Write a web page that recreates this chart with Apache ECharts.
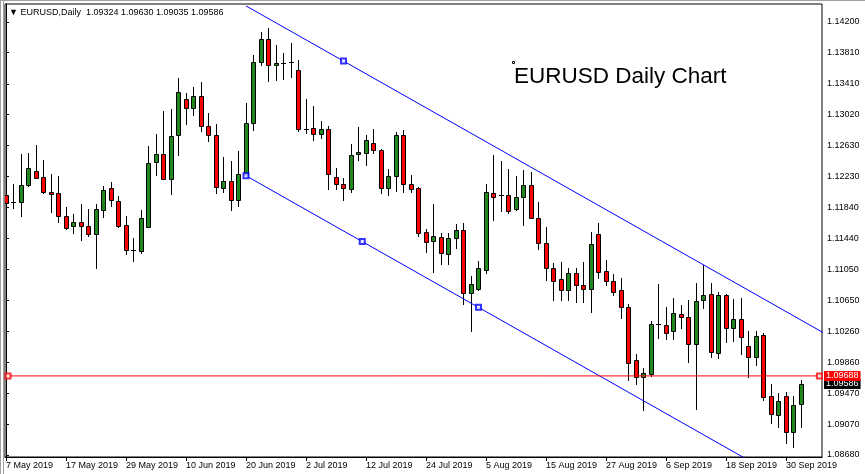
<!DOCTYPE html>
<html><head><meta charset="utf-8">
<script src="https://cdn.jsdelivr.net/npm/echarts@6/dist/echarts.min.js"></script>
<style>html,body{margin:0;padding:0;background:#fff}#c{width:865px;height:474px}</style>
</head><body><div id="c"></div>
<script>
// ---------- data ----------
const symbolName = 'EURUSD,Daily';
const chartTitle = 'EURUSD Daily Chart';
const dates = [
 '7 May 2019','8 May 2019','9 May 2019','10 May 2019','13 May 2019','14 May 2019','15 May 2019','16 May 2019','17 May 2019','20 May 2019','21 May 2019','22 May 2019','23 May 2019','24 May 2019','27 May 2019','28 May 2019','29 May 2019','30 May 2019','31 May 2019',
 '3 Jun 2019','4 Jun 2019','5 Jun 2019','6 Jun 2019','7 Jun 2019','10 Jun 2019','11 Jun 2019','12 Jun 2019','13 Jun 2019','14 Jun 2019','17 Jun 2019','18 Jun 2019','19 Jun 2019','20 Jun 2019','21 Jun 2019','24 Jun 2019','25 Jun 2019','26 Jun 2019','27 Jun 2019','28 Jun 2019',
 '1 Jul 2019','2 Jul 2019','3 Jul 2019','4 Jul 2019','5 Jul 2019','8 Jul 2019','9 Jul 2019','10 Jul 2019','11 Jul 2019','12 Jul 2019','15 Jul 2019','16 Jul 2019','17 Jul 2019','18 Jul 2019','19 Jul 2019','22 Jul 2019','23 Jul 2019','24 Jul 2019','25 Jul 2019','26 Jul 2019','29 Jul 2019','30 Jul 2019','31 Jul 2019',
 '1 Aug 2019','2 Aug 2019','5 Aug 2019','6 Aug 2019','7 Aug 2019','8 Aug 2019','9 Aug 2019','12 Aug 2019','13 Aug 2019','14 Aug 2019','15 Aug 2019','16 Aug 2019','19 Aug 2019','20 Aug 2019','21 Aug 2019','22 Aug 2019','23 Aug 2019','26 Aug 2019','27 Aug 2019','28 Aug 2019','29 Aug 2019','30 Aug 2019',
 '2 Sep 2019','3 Sep 2019','4 Sep 2019','5 Sep 2019','6 Sep 2019','9 Sep 2019','10 Sep 2019','11 Sep 2019','12 Sep 2019','13 Sep 2019','16 Sep 2019','17 Sep 2019','18 Sep 2019','19 Sep 2019','20 Sep 2019','23 Sep 2019','24 Sep 2019','25 Sep 2019','26 Sep 2019','27 Sep 2019','30 Sep 2019',
 '1 Oct 2019','2 Oct 2019'
];
const opens = [
 1.11992,1.11907,1.11907,1.12120,1.12298,1.12218,1.12034,1.12014,1.11725,1.11601,1.11648,1.11597,1.11492,1.11801,1.12081,1.11916,1.11606,1.11295,1.11283,
 1.11588,1.12409,1.12511,1.12200,1.12760,1.13215,1.13104,1.13253,1.12871,1.12760,1.12090,1.12179,1.11925,1.12247,1.12918,1.13690,1.13979,1.13657,1.13676,1.13688,
 1.13593,1.12840,1.12846,1.12778,1.12833,1.12225,1.12141,1.12065,1.12514,1.12536,1.12658,1.12574,1.12090,1.12234,1.12765,1.12141,1.12085,1.11517,1.11410,1.11461,1.11237,1.11448,1.11546,
 1.10740,1.10795,1.11037,1.12021,1.11992,1.11992,1.11810,1.11971,1.12128,1.11695,1.11377,1.11062,1.10918,1.10778,1.10995,1.10842,1.10791,1.11492,1.11020,1.10897,1.10782,1.10562,
 1.09890,1.09670,1.09712,1.10347,1.10336,1.10260,1.10472,1.10434,1.10098,1.10651,1.10727,1.09976,1.10718,1.10294,1.10413,1.10069,1.09925,1.10209,1.09432,1.09186,1.09432,
 1.08969,1.09324
];
const highs = [
 1.12183,1.12141,1.12514,1.12536,1.12633,1.12447,1.12256,1.12238,1.11843,1.11750,1.11878,1.11810,1.11878,1.12111,1.12154,1.11988,1.11725,1.11441,1.11797,
 1.12625,1.12778,1.13062,1.13088,1.13483,1.13300,1.13377,1.13432,1.13041,1.12897,1.12476,1.12425,1.12553,1.13173,1.13784,1.14072,1.14123,1.13912,1.13810,1.13937,
 1.13712,1.13219,1.13126,1.12935,1.12871,1.12345,1.12205,1.12651,1.12862,1.12757,1.12833,1.12580,1.12332,1.12799,1.12829,1.12247,1.12098,1.11555,1.11878,1.11504,1.11512,1.11619,1.11632,
 1.10964,1.11155,1.12132,1.12502,1.12429,1.12320,1.12234,1.12311,1.12289,1.11907,1.11588,1.11130,1.11142,1.11066,1.11058,1.11142,1.11525,1.11639,1.11164,1.10986,1.10931,1.10600,
 1.09967,1.09785,1.10387,1.10855,1.10569,1.10676,1.10591,1.10655,1.10875,1.11100,1.10867,1.10753,1.10731,1.10671,1.10676,1.10260,1.10260,1.10230,1.09585,1.09474,1.09479,
 1.09432,1.09630
];
const lows = [
 1.11652,1.11823,1.11728,1.12107,1.12205,1.12014,1.11779,1.11652,1.11555,1.11504,1.11419,1.11474,1.11058,1.11716,1.11856,1.11588,1.11241,1.11155,1.11249,
 1.11585,1.12251,1.12196,1.12005,1.12506,1.12897,1.13011,1.12816,1.12689,1.12018,1.12030,1.11801,1.11856,1.12240,1.12829,1.13657,1.13444,1.13466,1.13479,1.13499,
 1.12807,1.12782,1.12693,1.12722,1.12065,1.12065,1.11937,1.12034,1.12447,1.12374,1.12531,1.12021,1.11992,1.12047,1.12034,1.12034,1.11470,1.11262,1.11015,1.11113,1.11113,1.11313,1.10600,
 1.10264,1.10782,1.10995,1.11674,1.11792,1.11767,1.11805,1.11610,1.11700,1.11304,1.10909,1.10655,1.10655,1.10655,1.10633,1.10633,1.10506,1.10939,1.10846,1.10718,1.10421,1.09632,
 1.09581,1.09253,1.09686,1.10167,1.10154,1.10154,1.10294,1.09861,1.09266,1.10549,1.09925,1.09912,1.10123,1.10132,1.09963,1.09670,1.09826,1.09381,1.09084,1.09041,1.08837,
 1.08786,1.09035
];
const closes = [
 1.11894,1.11907,1.12128,1.12345,1.12213,1.12030,1.12005,1.11728,1.11576,1.11648,1.11593,1.11499,1.11810,1.12056,1.11925,1.11601,1.11295,1.11295,1.11703,
 1.12404,1.12511,1.12200,1.12753,1.13313,1.13109,1.13253,1.12871,1.12760,1.12098,1.12179,1.11925,1.12260,1.12918,1.13690,1.13979,1.13657,1.13683,1.13676,1.13688,
 1.12842,1.12840,1.12778,1.12830,1.12260,1.12141,1.12078,1.12502,1.12540,1.12702,1.12574,1.12090,1.12234,1.12765,1.12141,1.12069,1.11512,1.11397,1.11470,1.11257,1.11448,1.11546,1.10740,
 1.10855,1.11058,1.12027,1.11971,1.11992,1.11792,1.11963,1.12128,1.11703,1.11377,1.11062,1.10897,1.10778,1.10995,1.10842,1.10791,1.11364,1.11011,1.10897,1.10760,1.10562,1.09856,
 1.09670,1.09721,1.10349,1.10347,1.10230,1.10485,1.10434,1.10098,1.10638,1.10718,1.09988,1.10718,1.10294,1.10413,1.10179,1.09925,1.10196,1.09423,1.09202,1.09368,1.08969,
 1.09317,1.09586
];
const xTickLabels = ['7 May 2019','17 May 2019','29 May 2019','10 Jun 2019','20 Jun 2019','2 Jul 2019','12 Jul 2019','24 Jul 2019','5 Aug 2019','15 Aug 2019','27 Aug 2019','6 Sep 2019','18 Sep 2019','30 Sep 2019'];
const yTickValues = [1.0868,1.0907,1.0947,1.0986,1.1026,1.1065,1.1105,1.1144,1.1184,1.1223,1.1263,1.1302,1.1341,1.1381,1.1420];
const askPrice = 1.09688;
const bidPrice = 1.09586;
const channelBase = [[32, 1.12240], [63, 1.10562]];   // lower channel line anchors
const channelThird = [45, 1.13702];                     // upper channel anchor

// ---------- build ----------
const FONT = '"Liberation Sans", Arial, sans-serif';
const xMin = -0.1333, xMax = 108.8;
const yMin = 1.086545, yMax = 1.144295;
const n = dates.length;
const candles = dates.map((d, i) => [i, opens[i], closes[i], lows[i], highs[i]]);
const xTickIdx = xTickLabels.map(l => dates.indexOf(l));

const slope = (channelBase[1][1] - channelBase[0][1]) / (channelBase[1][0] - channelBase[0][0]);
const lowerAt = k => channelBase[0][1] + slope * (k - channelBase[0][0]);
const offset = channelThird[1] - lowerAt(channelThird[0]);
const kEnd = 130;
const lowerLine = [[channelBase[0][0], lowerAt(channelBase[0][0])], [kEnd, lowerAt(kEnd)]];
const upperLine = [[channelBase[0][0], lowerAt(channelBase[0][0]) + offset], [kEnd, lowerAt(kEnd) + offset]];
const midK = (channelBase[0][0] + channelBase[1][0]) / 2;
const channelHandles = [channelBase[0], [midK, lowerAt(midK)], channelBase[1], channelThird];

const last = n - 1;
const header = '\u25BC ' + symbolName + '  ' + [opens[last], highs[last], lows[last], closes[last]].map(v => v.toFixed(5)).join(' ');

const priceLabel = (txt, bg) => ({show: true, formatter: txt, color: '#fff', backgroundColor: bg,
  padding: [1, 2, 0, 2], distance: 2, fontSize: 9, fontFamily: FONT, valueAnimation: false});

const chart = echarts.init(document.getElementById('c'), null, {renderer: 'canvas'});
chart.setOption({
  animation: false,
  backgroundColor: '#fff',
  title: [
    {text: header, left: 9, top: 8, padding: 0, textStyle: {fontSize: 9, fontWeight: 'normal', color: '#000', fontFamily: FONT}},
    {text: chartTitle, left: 514, top: 65.5, padding: 0, textStyle: {fontSize: 22.5, fontWeight: 'normal', color: '#000', fontFamily: FONT}}
  ],
  graphic: [
    {type: 'line', shape: {x1: 0.5, y1: 0, x2: 0.5, y2: 474}, style: {stroke: '#a0a0a0', lineWidth: 1}, silent: true},
    {type: 'line', shape: {x1: 3.5, y1: 0, x2: 3.5, y2: 474}, style: {stroke: '#a0a0a0', lineWidth: 1}, silent: true},
    {type: 'line', shape: {x1: 0, y1: 0.5, x2: 865, y2: 0.5}, style: {stroke: '#a0a0a0', lineWidth: 1}, silent: true},
    {type: 'rect', shape: {x: 512.5, y: 61.5, width: 2, height: 2}, style: {fill: '#fff', stroke: '#000', lineWidth: 1}, silent: true}
  ],
  grid: {left: 5, right: 43, top: 4, bottom: 17, show: true, borderColor: '#000', borderWidth: 1, backgroundColor: '#fff'},
  xAxis: {
    type: 'value', min: xMin, max: xMax,
    axisLine: {show: true, onZero: false, lineStyle: {color: '#000', width: 1}},
    axisTick: {show: true, customValues: xTickIdx, length: 4, lineStyle: {color: '#000'}},
    axisLabel: {customValues: xTickIdx, formatter: v => dates[Math.round(v)] || '', align: 'left', margin: 4,
      fontSize: 9, color: '#000', fontFamily: FONT},
    splitLine: {show: false}
  },
  yAxis: {
    type: 'value', position: 'right', min: yMin, max: yMax, scale: true,
    axisLine: {show: true, lineStyle: {color: '#000', width: 1}},
    axisTick: {show: true, customValues: yTickValues, length: 3, lineStyle: {color: '#000'}},
    axisLabel: {customValues: yTickValues, formatter: v => v.toFixed(5), margin: 5, fontSize: 9, color: '#000', fontFamily: FONT},
    splitLine: {show: false}
  },
  series: [
    {
      type: 'custom', name: 'EURUSD', clip: true, data: candles,
      encode: {x: 0, y: [1, 2, 3, 4]},
      renderItem: (params, api) => {
        const k = api.value(0), o = api.value(1), c = api.value(2), l = api.value(3), h = api.value(4);
        const po = api.coord([k, o]), pc = api.coord([k, c]), ph = api.coord([k, h]), pl = api.coord([k, l]);
        const x = Math.round(po[0]);
        const ch = [{type: 'line', shape: {x1: x + 0.5, y1: Math.round(ph[1]), x2: x + 0.5, y2: Math.round(pl[1]) + 1},
          style: {stroke: '#000', lineWidth: 1}}];
        const t = Math.round(Math.min(po[1], pc[1])), b = Math.round(Math.max(po[1], pc[1]));
        if (o === c || b - t < 1) {
          ch.push({type: 'line', shape: {x1: x - 2, y1: t + 0.5, x2: x + 3, y2: t + 0.5}, style: {stroke: '#000', lineWidth: 1}});
        } else {
          ch.push({type: 'rect', shape: {x: x - 2 + 0.5, y: t + 0.5, width: 4, height: b - t},
            style: {fill: c > o ? '#1e8a1e' : '#ff0000', stroke: '#000', lineWidth: 1}});
        }
        return {type: 'group', children: ch};
      },
      z: 3
    },
    {type: 'line', data: lowerLine, symbol: 'none', lineStyle: {color: '#0000ff', width: 1}, clip: true, silent: true, z: 4},
    {type: 'line', data: upperLine, symbol: 'none', lineStyle: {color: '#0000ff', width: 1}, clip: true, silent: true, z: 4},
    {type: 'scatter', data: channelHandles, symbol: 'emptyRect', symbolSize: 5,
      itemStyle: {color: '#0000ff', borderWidth: 1}, silent: true, z: 5},
    // bid price line (hidden) with black price label
    {type: 'line', data: [[xMin, bidPrice], [xMax, bidPrice]], symbol: 'none', silent: true, clip: false, z: 6,
      lineStyle: {opacity: 0, width: 0}, itemStyle: {color: '#000'},
      endLabel: priceLabel(bidPrice.toFixed(5), '#000')},
    // ask price line (red) with red price label
    {type: 'line', data: [[xMin, askPrice], [xMax, askPrice]], symbol: 'none', silent: true, clip: false, z: 7,
      lineStyle: {color: '#ff0000', width: 1}, itemStyle: {color: '#ff0000'},
      endLabel: priceLabel(askPrice.toFixed(5), '#ff0000')},
    {type: 'scatter', data: [[0.27, askPrice], [108.45, askPrice]], symbol: 'emptyRect', symbolSize: 5,
      itemStyle: {color: '#ff0000', borderWidth: 1}, silent: true, z: 8}
  ]
});
</script></body></html>
